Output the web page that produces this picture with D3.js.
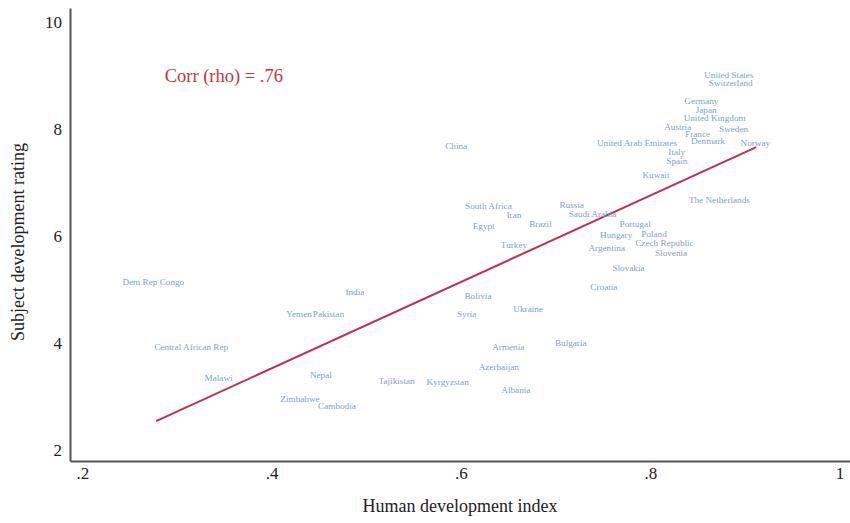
<!DOCTYPE html>
<html>
<head>
<meta charset="utf-8">
<script src="https://cdn.jsdelivr.net/npm/d3@7"></script>
<style>
  html, body { margin: 0; padding: 0; background: #fff; }
  svg { display: block; }
  text { font-family: "Liberation Serif", "DejaVu Serif", serif; }
</style>
</head>
<body>
<svg id="chart" width="850" height="523"></svg>
<script>
// ---- Data ----
const countries = ["United States","Switzerland","Germany","Japan","United Kingdom","Austria","France","Sweden","Denmark","Norway","United Arab Emirates","Italy","Spain","Kuwait","The Netherlands","Russia","Saudi Arabia","China","South Africa","Iran","Egypt","Brazil","Turkey","Portugal","Hungary","Poland","Czech Republic","Argentina","Slovenia","Slovakia","Croatia","Bolivia","Ukraine","Syria","Dem Rep Congo","India","Yemen","Pakistan","Central African Rep","Malawi","Nepal","Zimbabwe","Cambodia","Armenia","Bulgaria","Azerbaijan","Kyrgyzstan","Albania","Tajikistan"];
const hdi = [0.883,0.885,0.854,0.859,0.868,0.829,0.850,0.888,0.861,0.911,0.786,0.828,0.828,0.806,0.873,0.717,0.739,0.595,0.629,0.656,0.624,0.684,0.656,0.784,0.764,0.804,0.815,0.754,0.822,0.777,0.751,0.618,0.671,0.606,0.275,0.488,0.429,0.460,0.315,0.344,0.452,0.430,0.469,0.650,0.716,0.640,0.586,0.658,0.532];
const rating = [9.00,8.85,8.52,8.36,8.21,8.04,7.91,8.00,7.78,7.74,7.73,7.57,7.40,7.14,6.68,6.57,6.41,7.68,6.56,6.40,6.19,6.22,5.84,6.22,6.01,6.04,5.86,5.77,5.69,5.41,5.05,4.88,4.64,4.55,5.13,4.95,4.54,4.55,3.93,3.35,3.40,2.96,2.82,3.93,3.99,3.55,3.27,3.13,3.29];
const fitX = [0.278, 0.912];
const fitY = [2.54, 7.66];
const xTicks = [0.2, 0.4, 0.6, 0.8, 1];
const yTicks = [2, 4, 6, 8, 10];
const corrLabel = "Corr (rho) = .76";
const corrPos = [0.287, 8.99];

// ---- Chart ----
const svg = d3.select("#chart");
const x = d3.scaleLinear().domain([0.187, 1.011]).range([70, 850]);
const y = d3.scaleLinear().domain([1.794, 10.26]).range([461, 8]);

const axisColor = "#555";
const fmt = v => v === 1 ? "1" : String(v).replace(/^0/, "");

const gx = svg.append("g").attr("transform", `translate(0,${y.range()[0]})`)
  .call(d3.axisBottom(x).tickValues(xTicks).tickFormat(fmt).tickSize(0).tickPadding(6));
gx.select(".domain").attr("stroke", axisColor).attr("stroke-width", 2);
gx.selectAll(".tick text").attr("font-size", 17).attr("fill", "#222")
  .attr("font-family", "Liberation Serif, serif");

const gy = svg.append("g").attr("transform", `translate(${x.range()[0]},0)`)
  .call(d3.axisLeft(y).tickValues(yTicks).tickFormat(d3.format("d")).tickSize(0).tickPadding(8));
gy.select(".domain").attr("stroke", axisColor).attr("stroke-width", 2);
gy.selectAll(".tick text").attr("font-size", 17).attr("fill", "#222")
  .attr("font-family", "Liberation Serif, serif");

// axis titles
svg.append("text")
  .attr("x", (x.range()[0] + x.range()[1]) / 2)
  .attr("y", 512)
  .attr("text-anchor", "middle")
  .attr("font-size", 18).attr("fill", "#222")
  .text("Human development index");

svg.append("text")
  .attr("transform", "translate(24,242) rotate(-90)")
  .attr("text-anchor", "middle")
  .attr("font-size", 18).attr("fill", "#222")
  .text("Subject development rating");

// fit line
svg.append("line")
  .attr("x1", x(fitX[0])).attr("y1", y(fitY[0]))
  .attr("x2", x(fitX[1])).attr("y2", y(fitY[1]))
  .attr("stroke", "#c0304f").attr("stroke-width", 2);

// country labels
svg.append("g").selectAll("text")
  .data(countries.map((c, i) => ({ c, hx: hdi[i], r: rating[i] })))
  .join("text")
  .attr("x", d => x(d.hx))
  .attr("y", d => y(d.r))
  .attr("text-anchor", "middle")
  .attr("dominant-baseline", "central")
  .attr("font-size", 9.2)
  .attr("fill", "#7f9fcc")
  .text(d => d.c);

// corr annotation
svg.append("text")
  .attr("x", x(corrPos[0])).attr("y", y(corrPos[1]))
  .attr("dominant-baseline", "central")
  .attr("font-size", 18.5)
  .attr("fill", "#b83a4b")
  .text(corrLabel);
</script>
</body>
</html>
